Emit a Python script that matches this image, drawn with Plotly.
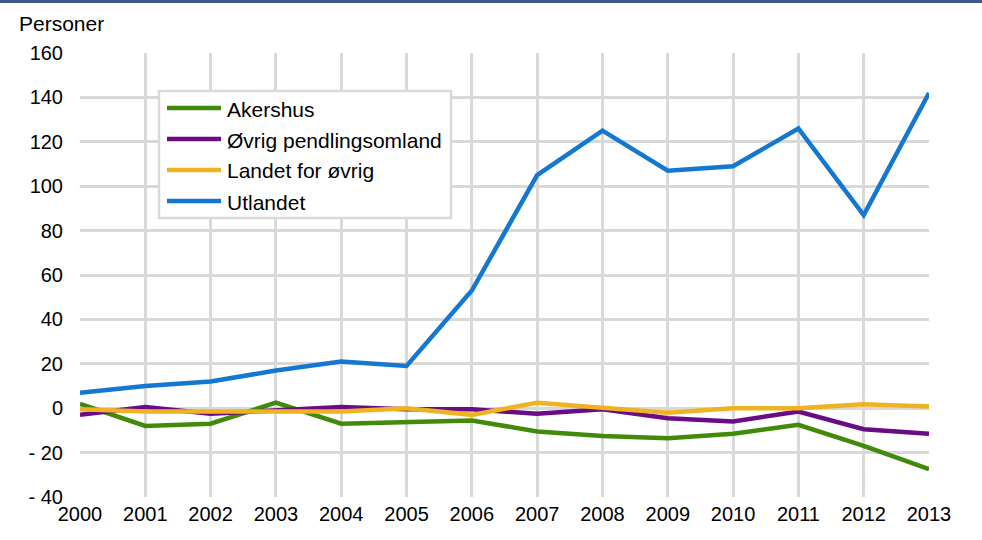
import plotly.graph_objects as go

years = list(range(2000, 2014))

akershus = [2, -8, -7, 2.5, -7, -6.5, -5.5, -10.5, -12.5, -13.5, -11.5, -7.5, -17, -27.5]
ovrig_pendling = [-3, 0.5, -2.5, -1, 0.5, -0.5, -0.5, -2.5, -0.5, -4.5, -6, -1.5, -9.5, -11.5]
landet_ovrig = [-0.5, -1.5, -1.5, -1.5, -1.5, 0, -3, 2.5, 0.5, -2, 0, 0, 1.8, 0.8]
utlandet = [7, 10, 12, 17, 21, 19, 53, 105, 125, 107, 109, 126, 87, 142]

series_names = ["Akershus", "Øvrig pendlingsomland", "Landet for øvrig", "Utlandet"]
series_values = [akershus, ovrig_pendling, landet_ovrig, utlandet]
series_colors = ["#428a0a", "#6a0c86", "#efb322", "#1477d2"]

y_tickvals = [-40, -20, 0, 20, 40, 60, 80, 100, 120, 140, 160]
y_ticktext = ["- 40", "- 20", "0", "20", "40", "60", "80", "100", "120", "140", "160"]

# page geometry (pixels)
W, H = 982, 540
ML, MR, MT, MB = 80, 53, 53, 43
PW, PH = W - ML - MR, H - MT - MB


def px(x):
    return (x - ML) / PW


def py(y):
    return 1 - (y - MT) / PH


fig = go.Figure()
for name, vals, col in zip(series_names, series_values, series_colors):
    fig.add_trace(go.Scatter(
        x=years, y=vals, name=name, mode="lines",
        line=dict(color=col, width=4.5), showlegend=False,
    ))

grid = "#d9d9d9"
font_family = "Liberation Sans, Arial, sans-serif"

shapes = [
    # dark rule along the top edge
    dict(type="rect", xref="paper", yref="paper", x0=px(-5), x1=px(W + 5),
         y0=py(3), y1=py(-2), fillcolor="#3f5a8a", line=dict(width=0), layer="above"),
    # legend box
    dict(type="rect", xref="paper", yref="paper", x0=px(159), x1=px(451),
         y0=py(218), y1=py(91), fillcolor="white", line=dict(color=grid, width=2.5),
         layer="above"),
]
annotations = [
    dict(text="Personer", xref="paper", yref="paper", x=px(17), y=py(23),
         xanchor="left", yanchor="middle", showarrow=False,
         font=dict(size=21, family=font_family, color="#000")),
]

row_y = [108, 139, 170, 201]
for name, col, ry in zip(series_names, series_colors, row_y):
    shapes.append(dict(type="line", xref="paper", yref="paper", x0=px(167), x1=px(221),
                       y0=py(ry), y1=py(ry), line=dict(color=col, width=4.5), layer="above"))
    annotations.append(dict(text=name, xref="paper", yref="paper", x=px(225), y=py(ry + 1),
                            xanchor="left", yanchor="middle", showarrow=False,
                            font=dict(size=21, family=font_family, color="#000")))

fig.update_layout(
    width=W, height=H,
    margin=dict(l=ML, r=MR, t=MT, b=MB),
    paper_bgcolor="white", plot_bgcolor="white",
    font=dict(family=font_family, size=20, color="#000000"),
    showlegend=False,
    xaxis=dict(
        range=[2000, 2013], tickvals=years, ticktext=[str(y) for y in years],
        showgrid=True, gridcolor=grid, gridwidth=3,
        showline=False, zeroline=False, ticks="", ticklabelstandoff=3,
        tickfont=dict(size=20),
    ),
    yaxis=dict(
        range=[-40, 160], tickvals=y_tickvals, ticktext=y_ticktext,
        showgrid=True, gridcolor=grid, gridwidth=3,
        showline=False, zeroline=False, ticks="", ticklabelstandoff=16,
        tickfont=dict(size=20),
    ),
    shapes=shapes,
    annotations=annotations,
)

fig.write_html("out.html")
